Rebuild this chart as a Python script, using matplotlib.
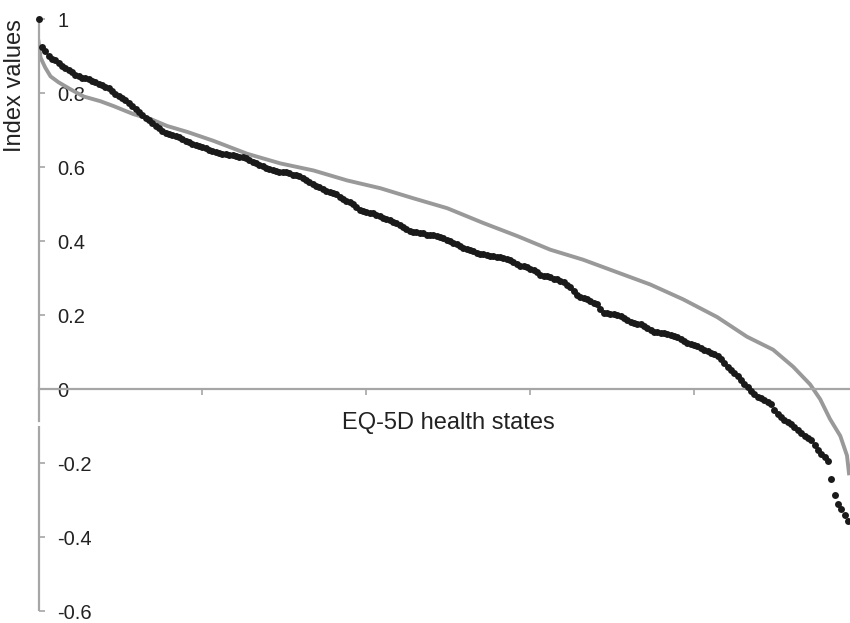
import numpy as np
import matplotlib
matplotlib.use("Agg")
import matplotlib.pyplot as plt

plt.rcParams['font.family'] = ['Liberation Sans', 'DejaVu Sans']

# observed index values for the 243 EQ-5D states, ranked high to low (black dots)
observed = [
    1.000, 0.925, 0.914, 0.901, 0.893, 0.888, 0.880, 0.873, 0.868, 0.861,
    0.856, 0.850, 0.845, 0.842, 0.840, 0.837, 0.833, 0.829, 0.825, 0.822,
    0.817, 0.813, 0.805, 0.797, 0.792, 0.786, 0.781, 0.774, 0.765, 0.757,
    0.749, 0.741, 0.734, 0.727, 0.719, 0.711, 0.705, 0.698, 0.693, 0.690,
    0.687, 0.684, 0.682, 0.676, 0.671, 0.667, 0.663, 0.660, 0.658, 0.655,
    0.651, 0.647, 0.643, 0.640, 0.639, 0.636, 0.635, 0.634, 0.632, 0.631,
    0.628, 0.628, 0.624, 0.619, 0.615, 0.610, 0.606, 0.602, 0.598, 0.594,
    0.591, 0.590, 0.588, 0.587, 0.586, 0.583, 0.580, 0.578, 0.575, 0.570,
    0.566, 0.561, 0.555, 0.549, 0.545, 0.540, 0.536, 0.533, 0.531, 0.527,
    0.519, 0.513, 0.509, 0.505, 0.500, 0.492, 0.485, 0.481, 0.479, 0.477,
    0.476, 0.472, 0.468, 0.463, 0.459, 0.456, 0.453, 0.449, 0.444, 0.439,
    0.432, 0.428, 0.425, 0.424, 0.422, 0.421, 0.418, 0.417, 0.416, 0.414,
    0.412, 0.408, 0.404, 0.400, 0.396, 0.392, 0.388, 0.382, 0.380, 0.377,
    0.373, 0.369, 0.366, 0.365, 0.362, 0.361, 0.360, 0.358, 0.356, 0.354,
    0.353, 0.350, 0.344, 0.338, 0.334, 0.332, 0.329, 0.326, 0.321, 0.316,
    0.310, 0.307, 0.305, 0.302, 0.299, 0.297, 0.293, 0.289, 0.283, 0.275,
    0.265, 0.255, 0.250, 0.247, 0.243, 0.239, 0.234, 0.229, 0.217, 0.207,
    0.205, 0.203, 0.202, 0.201, 0.197, 0.193, 0.187, 0.182, 0.179, 0.176,
    0.175, 0.172, 0.166, 0.159, 0.155, 0.154, 0.152, 0.151, 0.150, 0.147,
    0.144, 0.142, 0.135, 0.130, 0.126, 0.122, 0.119, 0.116, 0.111, 0.107,
    0.103, 0.098, 0.094, 0.090, 0.083, 0.072, 0.060, 0.051, 0.043, 0.035,
    0.024, 0.015, 0.005, -0.004, -0.013, -0.020, -0.024, -0.029, -0.033, -0.040,
    -0.056, -0.068, -0.076, -0.082, -0.087, -0.094, -0.102, -0.110, -0.119, -0.126,
    -0.131, -0.138, -0.150, -0.164, -0.175, -0.184, -0.193, -0.243, -0.286, -0.310,
    -0.324, -0.340, -0.356,
]

# predicted values (grey line), read at selected ranks
pred_rank = [0, 0.6, 2, 3.6, 6, 9.6, 13.4, 18.5, 22.4, 28.4, 33.5, 38.5, 44.5,
             52.3, 62.4, 72.3, 82.2, 92.3, 102.2, 112, 122.2, 133, 143.1, 153,
             162.8, 173, 182.9, 192.7, 202.9, 211.8, 219.6, 225.6, 230.7, 233.7,
             236.6, 239.7, 241.7, 242.3]
predicted = [0.939, 0.896, 0.869, 0.845, 0.829, 0.810, 0.791, 0.778, 0.765,
             0.743, 0.730, 0.711, 0.695, 0.671, 0.636, 0.610, 0.591, 0.564,
             0.543, 0.516, 0.489, 0.449, 0.414, 0.377, 0.350, 0.316, 0.283,
             0.243, 0.195, 0.142, 0.107, 0.061, 0.013, -0.027, -0.080, -0.126,
             -0.179, -0.227]

yticks = [-0.6, -0.4, -0.2, 0, 0.2, 0.4, 0.6, 0.8, 1]
ytick_labels = ['-0.6', '-0.4', '-0.2', '0', '0.2', '0.4', '0.6', '0.8', '1']

rank = np.arange(len(observed))
axis_grey = '#a6a6a6'
text_col = '#222222'

fig = plt.figure(figsize=(8.5, 6.23), dpi=100)
ax = fig.add_axes([0.0453, 0.0185, 0.9547, 0.951])

ax.plot(pred_rank, predicted, color='#999999', lw=2.8, zorder=2,
        solid_joinstyle='round')
ax.plot(rank, observed, 'o', color='#1a1a1a', ms=5, mec='none', zorder=3,
        clip_on=False)

ax.set_xlim(0, 242.6)
ax.set_ylim(-0.6, 1.0)

for s in ['top', 'right']:
    ax.spines[s].set_visible(False)
ax.spines['bottom'].set_position(('data', 0))
ax.spines['bottom'].set_color(axis_grey)
ax.spines['bottom'].set_linewidth(1.6)
ax.spines['left'].set_color(axis_grey)
ax.spines['left'].set_linewidth(1.6)
ax.spines['left'].set_bounds(-0.086, 1.0)
# lower part of the value axis, below the small break
ax.plot([0, 0], [-0.6, -0.099], color=axis_grey, lw=1.6, clip_on=False,
        solid_capstyle='butt', zorder=1)

ax.set_xticks(np.arange(0, 243, 49))
ax.set_xticklabels([])
ax.tick_params(axis='x', direction='out', length=4, width=1.2, color=axis_grey)

ax.set_yticks(yticks)
ax.set_yticklabels(ytick_labels)
ax.tick_params(axis='y', direction='in', length=4.5, width=1.2, color=axis_grey,
               pad=-13.5, labelsize=14.5, labelcolor=text_col)
for lab in ax.get_yticklabels():
    lab.set_horizontalalignment('left')

ax.set_xlabel('EQ-5D health states', fontsize=17, color=text_col, va='top')
ax.xaxis.set_label_coords(0.505, 0.336)
ax.set_ylabel('Index values', fontsize=17, color=text_col, loc='top')
ax.yaxis.set_label_coords(-0.016, 1.0)

fig.savefig('out.png', dpi=100)
